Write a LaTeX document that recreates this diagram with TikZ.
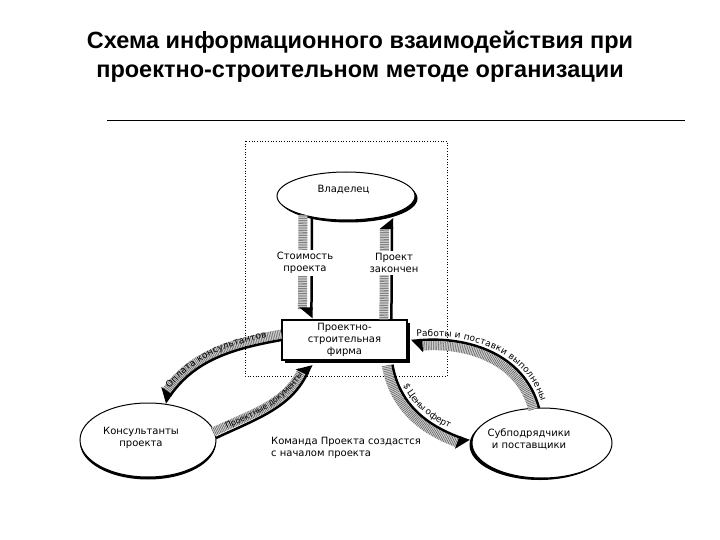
\documentclass[tikz,border=0pt]{standalone}
\usepackage{fontspec}
\setmainfont{Liberation Sans}
\newfontfamily\dejavu{DejaVu Sans}
\usetikzlibrary{arrows.meta,calc,shadows,shapes.geometric,decorations.text}
\newcommand\lblfont{\dejavu\fontsize{10}{12}\selectfont}
\newcommand\curvefont{\dejavu\fontsize{9}{9}\selectfont}
\newcommand\smallcurvefont{\dejavu\fontsize{8}{8}\selectfont}
\newcommand\titlefont{\bfseries\fontsize{23.5}{28}\selectfont}
\begin{document}
\begin{tikzpicture}[x=1pt,y=-1pt,
  ell/.style={ellipse, draw, line width=1pt, fill=white, inner sep=0pt},
  firmbox/.style={rectangle, draw, line width=1.2pt, fill=white,
    drop shadow={shadow xshift=2.5pt,shadow yshift=-2.5pt,fill=black,opacity=1},
    minimum width=125pt, minimum height=40pt, align=center, font=\lblfont, inner sep=0pt},
  txt/.style={font=\lblfont, align=center, inner sep=0pt},
  band/.style={line width=9pt, draw=gray!35, shorten >=9pt,
    postaction={draw=black!65, line width=9pt, dash pattern=on 0.5pt off 1.2pt, shorten >=9pt}},
  blk/.style={line width=2.5pt, draw=black},
  tipL/.style={-{Triangle[harpoon,width=24pt,length=10pt]}},
  tipR/.style={-{Triangle[harpoon,swap,width=24pt,length=10pt]}},
  lab/.style={font=\lblfont, align=center, fill=white, inner sep=2pt}
]
\useasboundingbox (0,0) rectangle (720,540);

% title
\node[anchor=base, font=\titlefont] (t1) at (360,49) {Схема информационного взаимодействия при};
\node[anchor=base, font=\titlefont] (t2) at (360,78) {проектно-строительном методе организации};
\coordinate (r1) at (107,120);
\coordinate (r2) at (685,120);
\draw[line width=0.8pt] (r1) -- (r2);

% dotted frame
\draw[dotted, line width=0.7pt] (245,141) rectangle (447,376);

% nodes
\node[ell, minimum width=138pt, minimum height=48pt,
  drop shadow={shadow xshift=2.5pt,shadow yshift=-2.5pt,fill=black,opacity=1}] (owner) at (346,196) {};
\node[txt] (ownertext) at (343.5,190) {Владелец};
\node[firmbox] (firm) at (344.5,340) {Проектно-\\строительная\\фирма};
\node[ell, minimum width=136pt, minimum height=74pt,
  drop shadow={shadow xshift=0pt,shadow yshift=-2.5pt,fill=black,opacity=1}] (cons) at (148,440) {};
\node[txt] (constext) at (141,438) {Консультанты\\проекта};
\node[ell, minimum width=140pt, minimum height=70pt,
  drop shadow={shadow xshift=-2.5pt,shadow yshift=-2pt,fill=black,opacity=1}] (sub) at (542,443) {};
\node[txt] (subtext) at (529,439) {Субподрядчики\\и поставщики};

\node[font=\lblfont, align=left, anchor=west, inner sep=0pt] (team) at (271,448)
  {Команда Проекта создастся\\с началом проекта};

% vertical arrows
\draw[band] ($(owner.center)+(-43,19)$) -- ($(firm.north west)+(21,-1)$);
\draw[blk, tipR] ($(owner.center)+(-34,21)$) -- ($(firm.north west)+(30,-1)$);
\draw[band] ($(firm.north west)+(102.5,0)$) -- ($(owner.center)+(38.5,24)$);
\draw[blk, tipL] ($(firm.north west)+(110,0)$) -- ($(owner.center)+(46,22)$);
\node[lab] (lab1) at (305,263) {Стоимость\\проекта};
\node[lab] (lab2) at (394,263) {Проект\\закончен};

% Оплата консультантов
\draw[band] ($(firm.west)+(0,-6)$) to[out=190,in=55] ($(cons.center)+(12,-40)$);
\draw[blk, tipR] (firm.west) to[out=190,in=55] ($(cons.center)+(17,-37)$);
\path[decorate, decoration={text along path, text align=center, raise=5pt,
  text={|\curvefont|Оплата консультантов}}]
  ($(cons.center)+(17,-37)$) to[out=55,in=190] (firm.west);

% Проектные документы
\draw[band] ($(cons.center)+(65,-8)$) to[out=25,in=245] ($(firm.south west)+(24.5,1.5)$);
\draw[blk, tipL] ($(cons.center)+(68,-2)$) to[out=25,in=245] ($(firm.south west)+(30,4)$);
\path[decorate, decoration={text along path, text align=center, raise=3pt,
  text={|\smallcurvefont|Проектные документы}}]
  ($(cons.center)+(66,-2)$) to[out=25,in=245] ($(firm.south west)+(31,2)$);

% Работы и поставки выполнены
\draw[band] ($(sub.center)+(-9,-33.5)$) to[out=105,in=5] ($(firm.east)+(4,7)$);
\draw[blk, tipL] ($(sub.center)+(-3,-35)$) to[out=105,in=5] ($(firm.east)+(3.5,1)$);
\path[decorate, decoration={text along path, text align=center, raise=4pt,
  text={|\curvefont|Работы и поставки выполнены}}]
  ($(firm.east)+(3.5,1)$) to[out=5,in=105] ($(sub.center)+(-3,-35)$);

% Цены оферт
\draw[band] ($(firm.south west)+(105,5)$) to[out=280,in=160] ($(sub.west)+(-4,3.6)$);
\draw[blk, tipR] ($(firm.south west)+(111,4)$) to[out=280,in=160] ($(sub.west)+(-2,-2)$);
\path[decorate, decoration={text along path, text align=center, raise=4pt,
  text={|\curvefont|{\$} Цены оферт}}]
  ($(firm.south west)+(111,4)$) to[out=280,in=160] ($(sub.west)+(-2,-2)$);
\end{tikzpicture}
\end{document}
